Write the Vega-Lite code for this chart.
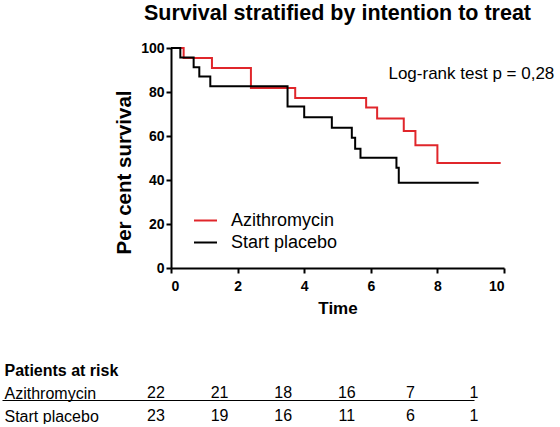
{
  "$schema": "https://vega.github.io/schema/vega-lite/v6.json",
  "background": "white",
  "padding": {"left": 1, "top": 2, "right": 0, "bottom": 0},
  "spacing": 25,
  "datasets": {
    "km": [
      {"group": "Azithromycin", "t": 0, "s": 100},
      {"group": "Azithromycin", "t": 0.38, "s": 95.5},
      {"group": "Azithromycin", "t": 1.23, "s": 90.9},
      {"group": "Azithromycin", "t": 2.4, "s": 81.8},
      {"group": "Azithromycin", "t": 3.73, "s": 77.3},
      {"group": "Azithromycin", "t": 5.86, "s": 72.9},
      {"group": "Azithromycin", "t": 6.19, "s": 67.9},
      {"group": "Azithromycin", "t": 6.99, "s": 62.3},
      {"group": "Azithromycin", "t": 7.34, "s": 55.8},
      {"group": "Azithromycin", "t": 8.0, "s": 47.7},
      {"group": "Azithromycin", "t": 9.9, "s": 47.7},
      {"group": "Start placebo", "t": 0, "s": 100},
      {"group": "Start placebo", "t": 0.28, "s": 95.7},
      {"group": "Start placebo", "t": 0.68, "s": 91.3},
      {"group": "Start placebo", "t": 0.85, "s": 87.0},
      {"group": "Start placebo", "t": 1.18, "s": 82.6},
      {"group": "Start placebo", "t": 3.5, "s": 73.4},
      {"group": "Start placebo", "t": 4.0, "s": 68.5},
      {"group": "Start placebo", "t": 4.83, "s": 63.8},
      {"group": "Start placebo", "t": 5.43, "s": 59.2},
      {"group": "Start placebo", "t": 5.53, "s": 54.2},
      {"group": "Start placebo", "t": 5.69, "s": 50.1},
      {"group": "Start placebo", "t": 6.77, "s": 45.6},
      {"group": "Start placebo", "t": 6.84, "s": 38.8},
      {"group": "Start placebo", "t": 9.24, "s": 38.8}
    ],
    "risk": [
      {"row": "Azithromycin", "time": 0, "n": 22},
      {"row": "Azithromycin", "time": 2, "n": 21},
      {"row": "Azithromycin", "time": 4, "n": 18},
      {"row": "Azithromycin", "time": 6, "n": 16},
      {"row": "Azithromycin", "time": 8, "n": 7},
      {"row": "Azithromycin", "time": 10, "n": 1},
      {"row": "Start placebo", "time": 0, "n": 23},
      {"row": "Start placebo", "time": 2, "n": 19},
      {"row": "Start placebo", "time": 4, "n": 16},
      {"row": "Start placebo", "time": 6, "n": 11},
      {"row": "Start placebo", "time": 8, "n": 6},
      {"row": "Start placebo", "time": 10, "n": 1}
    ]
  },
  "vconcat": [
    {
      "width": 333,
      "height": 220,
      "title": {
        "text": "Survival stratified  by intention to treat",
        "font": "Liberation Sans",
        "fontSize": 21.5,
        "fontWeight": "bold",
        "color": "black",
        "anchor": "middle",
        "frame": "group",
        "baseline": "alphabetic",
        "offset": 0
      },
      "layer": [
        {
          "data": {"name": "km"},
          "mark": {"type": "line", "interpolate": "step-after", "strokeWidth": 2},
          "encoding": {
            "x": {
              "field": "t", "type": "quantitative",
              "scale": {"domain": [0, 10], "nice": false},
              "axis": {
                "values": [0, 2, 4, 6, 8, 10],
                "title": "Time",
                "titleFontSize": 17, "titleFontWeight": "bold", "titlePadding": 7,
                "labelFontSize": 14, "labelFontWeight": "bold", "labelPadding": 6,
                "tickSize": 5, "tickWidth": 2, "domainWidth": 2
              }
            },
            "y": {
              "field": "s", "type": "quantitative",
              "scale": {"domain": [0, 100], "nice": false},
              "axis": {
                "values": [0, 20, 40, 60, 80, 100],
                "title": "Per cent survival",
                "titleFontSize": 20.5, "titleFontWeight": "bold", "titlePadding": 6,
                "titleY": 124,
                "labelFontSize": 14, "labelFontWeight": "bold", "labelPadding": 2,
                "tickSize": 5, "tickWidth": 2, "domainWidth": 2
              }
            },
            "color": {
              "field": "group", "type": "nominal",
              "scale": {"domain": ["Azithromycin", "Start placebo"], "range": ["#e0262b", "#000000"]},
              "legend": {
                "orient": "none", "legendX": 22, "legendY": 160,
                "title": null, "symbolType": "stroke", "symbolSize": 529,
                "symbolStrokeWidth": 2, "labelFontSize": 18, "labelFont": "Liberation Sans",
                "labelColor": "black", "labelOffset": 13, "rowPadding": 0, "padding": 0
              }
            }
          }
        },
        {
          "data": {"values": [{"label": "Log-rank test p = 0,28"}]},
          "mark": {"type": "text", "align": "left", "baseline": "alphabetic", "font": "Liberation Sans", "fontSize": 17, "color": "black"},
          "encoding": {
            "x": {"datum": 6.53, "type": "quantitative"},
            "y": {"datum": 86, "type": "quantitative"},
            "text": {"field": "label"}
          }
        }
      ]
    },
    {
      "width": 336,
      "height": 69,
      "data": {"name": "risk"},
      "mark": {"type": "text", "font": "Liberation Sans", "fontSize": 16, "baseline": "alphabetic", "dy": 9.5, "align": "center", "color": "black"},
      "encoding": {
        "x": {"field": "time", "type": "quantitative", "scale": {"domain": [0, 10], "range": [-15, 303]}, "axis": null},
        "y": {
          "field": "row", "type": "nominal",
          "scale": {"domain": ["Patients at risk", "Azithromycin", "Start placebo"], "paddingInner": 0, "paddingOuter": 0},
          "axis": {
            "title": null, "domain": false,
            "ticks": true, "tickSize": 169, "tickColor": "black", "tickWidth": 1.2,
            "tickOpacity": {"condition": {"test": "datum.value === 'Azithromycin'", "value": 1}, "value": 0},
            "grid": true, "gridColor": "black", "gridWidth": 1.2,
            "gridOpacity": {"condition": {"test": "datum.value === 'Azithromycin'", "value": 1}, "value": 0},
            "tickBand": "extent",
            "labelAlign": "left", "labelPadding": -2, "labelBaseline": "alphabetic", "labelOffset": 9.5,
            "labelFontSize": 16, "labelFont": "Liberation Sans", "labelColor": "black", "labelLimit": 0,
            "labelFontWeight": {"condition": {"test": "datum.value === 'Patients at risk'", "value": "bold"}, "value": "normal"}
          }
        },
        "text": {"field": "n", "type": "quantitative"}
      }
    }
  ],
  "config": {
    "view": {"stroke": null},
    "axis": {"domainColor": "black", "tickColor": "black", "labelColor": "black", "titleColor": "black", "labelFont": "Liberation Sans", "titleFont": "Liberation Sans", "grid": false}
  }
}
